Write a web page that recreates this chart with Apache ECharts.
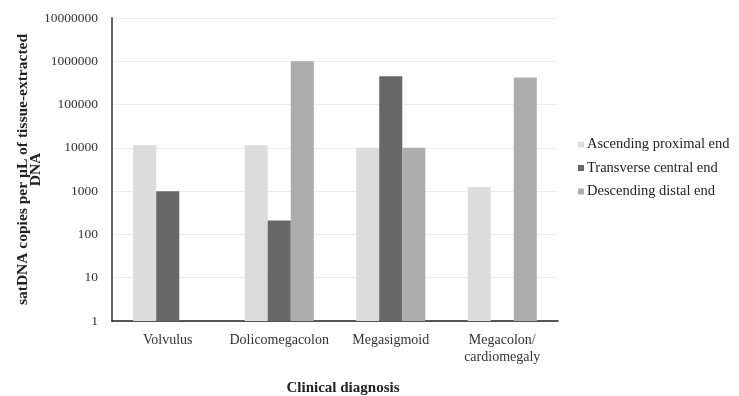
<!DOCTYPE html>
<html>
<head>
<meta charset="utf-8">
<script src="https://cdn.jsdelivr.net/npm/echarts@6/dist/echarts.min.js"></script>
<style>
  html, body { margin: 0; padding: 0; background: #fff; }
  #chart { width: 739px; height: 396px; }
</style>
</head>
<body>
<div id="chart"></div>
<script>
// Clinical diagnosis groups
const categories = ['Volvulus', 'Dolicomegacolon', 'Megasigmoid', 'Megacolon/\ncardiomegaly'];

// satDNA copies per µL for each colon segment
const ascendingProximal = [11500, 11500, 10000, 1250];
const transverseCentral = [1000, 210, 450000, null];
const descendingDistal = [null, 1000000, 10000, 420000];

const seriesNames = ['Ascending proximal end', 'Transverse central end', 'Descending distal end'];
const seriesColors = ['#dcdcdc', '#676767', '#adadad'];

const FONT = '"Liberation Serif", "DejaVu Serif", serif';

const chart = echarts.init(document.getElementById('chart'), null, { renderer: 'canvas' });

function bar(name, data, color) {
  return {
    name: name,
    type: 'bar',
    data: data,
    barGap: '0%',
    barCategoryGap: '38%',
    itemStyle: { color: color }
  };
}

chart.setOption({
  animation: false,
  textStyle: { fontFamily: FONT },
  grid: { left: 112, right: 181, top: 18, bottom: 75, outerBoundsMode: 'none', containLabel: false },
  legend: {
    orient: 'vertical',
    left: 573,
    top: 132,
    itemWidth: 6,
    itemHeight: 6,
    itemGap: 8.5,
    icon: 'rect',
    textStyle: { fontFamily: FONT, fontSize: 14.5, color: '#222', padding: [0, 0, 0, -2] },
    data: seriesNames
  },
  xAxis: {
    type: 'category',
    data: categories,
    name: 'Clinical diagnosis',
    nameLocation: 'middle',
    nameGap: 60,
    nameTextStyle: { fontFamily: FONT, fontSize: 15, fontWeight: 'bold', color: '#222', padding: [0, 0, 0, 16] },
    axisLine: { lineStyle: { color: '#222', width: 1.5 } },
    axisTick: { show: false },
    axisLabel: { interval: 0, hideOverlap: false, fontFamily: FONT, fontSize: 14, color: '#333', margin: 11, lineHeight: 17 }
  },
  yAxis: {
    type: 'log',
    logBase: 10,
    min: 1,
    max: 10000000,
    name: 'satDNA copies per µL of tissue-extracted\nDNA',
    nameLocation: 'middle',
    nameGap: 69,
    nameMoveOverlap: false,
    nameTextStyle: { fontFamily: FONT, fontSize: 15.5, fontWeight: 'bold', color: '#222', lineHeight: 13.5 },
    axisLine: { show: true, lineStyle: { color: '#666', width: 2 } },
    axisTick: { show: false },
    splitLine: { lineStyle: { color: '#ececec', width: 1 } },
    axisLabel: {
      fontFamily: FONT, fontSize: 13.5, color: '#333', margin: 14,
      formatter: v => String(Math.round(v))
    }
  },
  series: [
    bar(seriesNames[0], ascendingProximal, seriesColors[0]),
    bar(seriesNames[1], transverseCentral, seriesColors[1]),
    bar(seriesNames[2], descendingDistal, seriesColors[2])
  ]
});
</script>
</body>
</html>
